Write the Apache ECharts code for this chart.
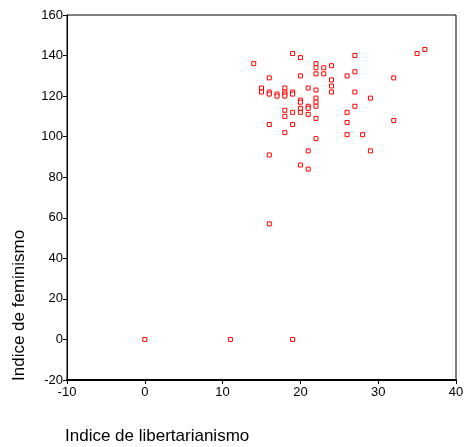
<!DOCTYPE html>
<html>
<head>
<meta charset="utf-8">
<script src="https://cdn.jsdelivr.net/npm/echarts@6/dist/echarts.min.js"></script>
<style>
html,body{margin:0;padding:0;background:#fff;}
#chart{width:468px;height:447px;}
</style>
</head>
<body>
<div id="chart"></div>
<script>
var xTitle = 'Indice de libertarianismo';
var yTitle = 'Indice de feminismo';
var xTicks = [-10, 0, 10, 20, 30, 40];
var yTicks = [-20, 0, 20, 40, 60, 80, 100, 120, 140, 160];
var libertarianismo = [14,19,20,27,35,36,22,22,22,23,23,24,20,26,27,16,32,15,15,18,18,18,18,16,16,17,17,19,19,21,24,24,24,22,27,29,20,20,22,22,22,18,18,19,20,20,21,21,21,22,27,26,26,32,16,19,18,22,26,28,21,29,16,20,21,16,0,11,19];
var feminismo =       [136,141,139,140,141,143,136,134,131,134,131,135,130,130,132,129,129,124,122,124,122,121,120,122,121,121,120,122,121,124,128,125,122,123,122,119,118,117,119,117,115,113,110,112,114,112,115,114,111,109,115,112,107,108,106,106,102,99,101,101,93,93,91,86,84,57,0,0,0];

var points = libertarianismo.map(function (x, i) { return [x, feminismo[i]]; });

var chart = echarts.init(document.getElementById('chart'), null, {renderer: 'canvas'});
var font = 'Liberation Sans, Arial, sans-serif';
chart.setOption({
  animation: false,
  backgroundColor: '#fff',
  grid: {left: 67, top: 15, right: 12, bottom: 67, show: true, borderColor: '#000', borderWidth: 1, backgroundColor: 'transparent'},
  xAxis: {
    type: 'value', min: xTicks[0], max: xTicks[xTicks.length - 1], interval: 10,
    splitLine: {show: false},
    axisLine: {onZero: false, lineStyle: {color: '#000', width: 2}},
    axisTick: {show: true, length: 4, lineStyle: {color: '#000'}},
    axisLabel: {color: '#000', fontSize: 13, fontFamily: font, margin: 6}
  },
  yAxis: {
    type: 'value', min: yTicks[0], max: yTicks[yTicks.length - 1], interval: 20,
    splitLine: {show: false},
    axisLine: {onZero: false, lineStyle: {color: '#000', width: 1}},
    axisTick: {show: true, length: 4, lineStyle: {color: '#000'}},
    axisLabel: {color: '#000', fontSize: 13, fontFamily: font, margin: 4}
  },
  graphic: [
    {type: 'text', left: 65, top: 428, style: {text: xTitle, fill: '#000', font: '17px Liberation Sans, Arial, sans-serif'}},
    {type: 'text', x: 11, y: 381, rotation: Math.PI / 2, style: {text: yTitle, fill: '#000', font: '17px Liberation Sans, Arial, sans-serif', align: 'left', verticalAlign: 'top'}}
  ],
  series: [{
    type: 'scatter',
    data: points,
    symbol: 'rect',
    symbolSize: 4,
    itemStyle: {color: '#fff', borderColor: '#ff0000', borderWidth: 1, opacity: 1}
  }]
});
</script>
</body>
</html>
